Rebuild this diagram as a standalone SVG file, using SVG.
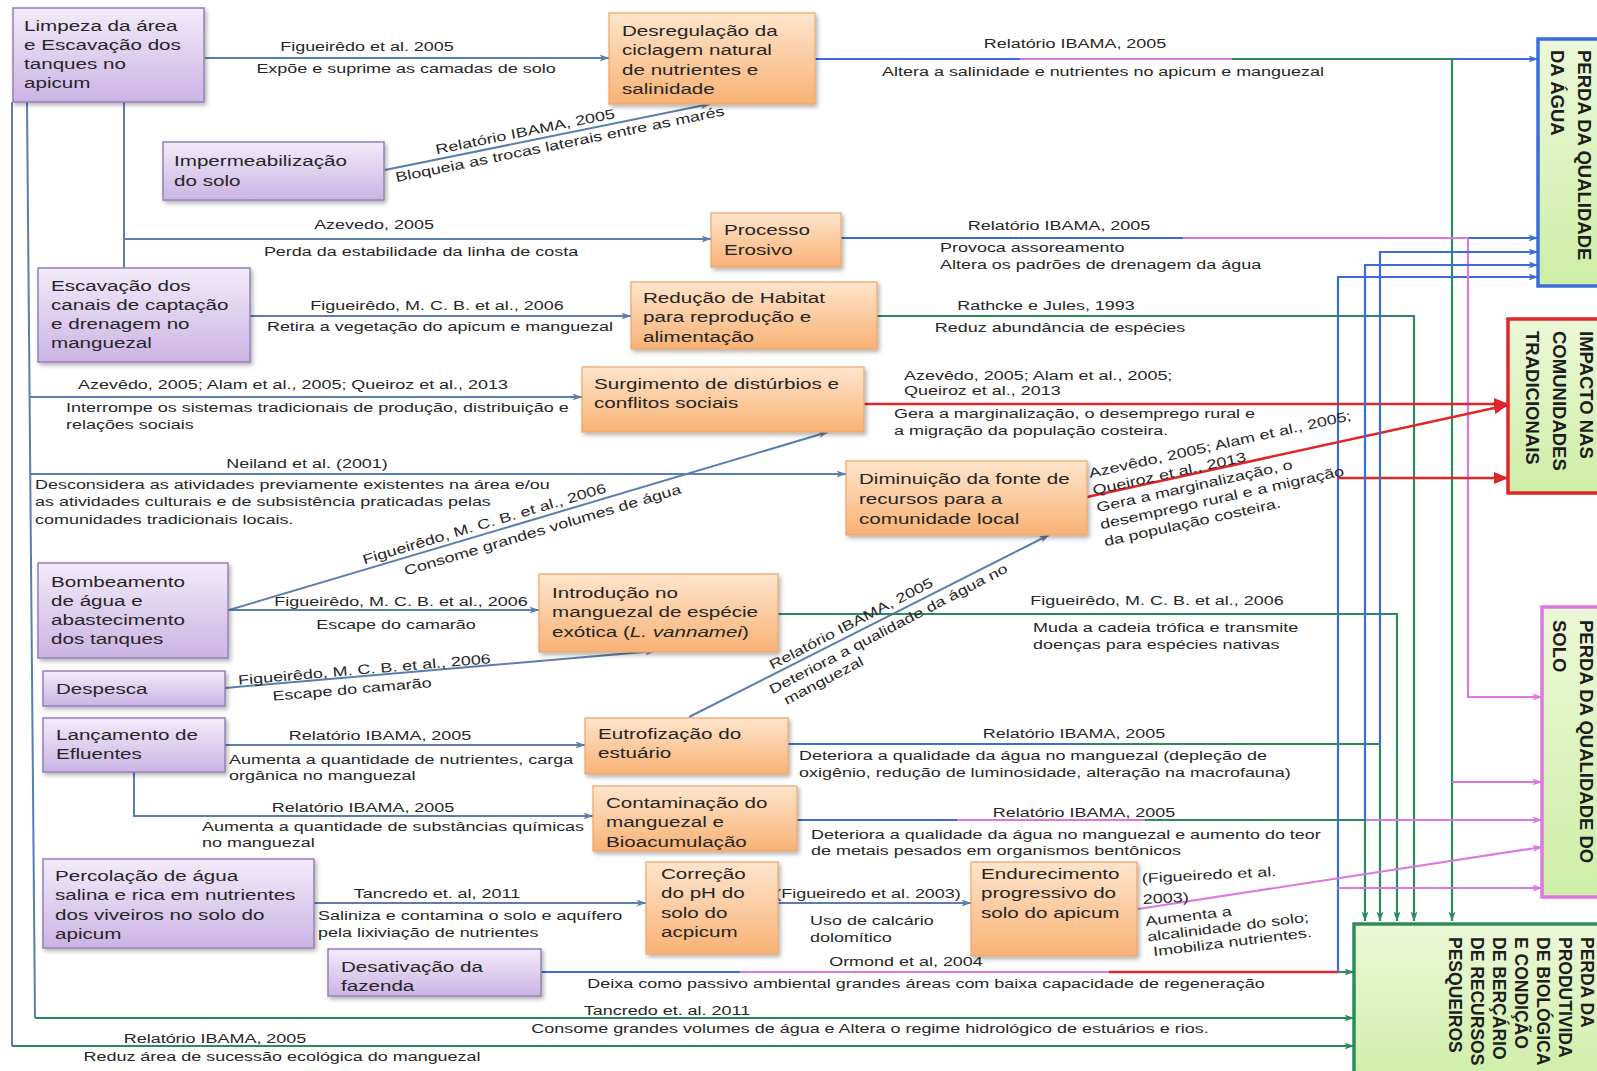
<svg xmlns="http://www.w3.org/2000/svg" width="1597" height="1071" viewBox="0 0 1597 1071">
<defs>
<linearGradient id="gp" x1="0" y1="0" x2="0" y2="1"><stop offset="0" stop-color="#f3ebf9"/><stop offset="1" stop-color="#cbb4e4"/></linearGradient>
<linearGradient id="go" x1="0" y1="0" x2="0" y2="1"><stop offset="0" stop-color="#fee5cc"/><stop offset="1" stop-color="#f8b275"/></linearGradient>
<linearGradient id="gg" x1="0" y1="0" x2="0" y2="1"><stop offset="0" stop-color="#ecf8d8"/><stop offset="1" stop-color="#cdeea6"/></linearGradient>
<filter id="sh" x="-10%" y="-10%" width="130%" height="140%"><feDropShadow dx="2" dy="2.5" stdDeviation="2" flood-color="#000" flood-opacity="0.3"/></filter>
<marker id="mS" viewBox="0 0 10 10" refX="9.5" refY="5" markerWidth="10" markerHeight="10" markerUnits="userSpaceOnUse" orient="auto"><path d="M0,1.5 L10,5 L0,8.5 L2.5,5z" fill="#5a7fae"/></marker>
<marker id="mB" viewBox="0 0 10 10" refX="9.5" refY="5" markerWidth="10" markerHeight="10" markerUnits="userSpaceOnUse" orient="auto"><path d="M0,1.5 L10,5 L0,8.5 L2.5,5z" fill="#3b6dd6"/></marker>
<marker id="mG" viewBox="0 0 10 10" refX="9.5" refY="5" markerWidth="10" markerHeight="10" markerUnits="userSpaceOnUse" orient="auto"><path d="M0,1.5 L10,5 L0,8.5 L2.5,5z" fill="#2f8a5c"/></marker>
<marker id="mM" viewBox="0 0 10 10" refX="9.5" refY="5" markerWidth="10" markerHeight="10" markerUnits="userSpaceOnUse" orient="auto"><path d="M0,1.5 L10,5 L0,8.5 L2.5,5z" fill="#df77e0"/></marker>
<marker id="mR" viewBox="0 0 10 10" refX="9.5" refY="5" markerWidth="15" markerHeight="15" markerUnits="userSpaceOnUse" orient="auto"><path d="M0,1 L10,5 L0,9z" fill="#e1262a"/></marker>
<style>
.pb{fill:url(#gp);stroke:#9480b8;stroke-width:1.5;filter:url(#sh)}
.ob{fill:url(#go);stroke:#eda66c;stroke-width:1.2;filter:url(#sh)}
.gb{fill:url(#gg);stroke-width:3.5}
text{font-family:"Liberation Sans",Arial,sans-serif;fill:#262626}
.bt{font-size:15.5px}
.lt{font-size:13.5px}
.gt{font-size:18.5px;font-weight:bold;fill:#1e1e1e}
.gt2{font-size:17.5px;font-weight:bold;fill:#1e1e1e}
.m{text-anchor:middle}
.s,.b,.g,.mg,.r{fill:none;stroke-width:2.2}
.s{stroke:#5a7fae;stroke-width:2}
.b{stroke:#3b6dd6}
.g{stroke:#2f8a5c}
.mg{stroke:#df77e0}
.r{stroke:#e1262a;stroke-width:2.6}
</style>
</defs>
<rect width="1597" height="1071" fill="#ffffff"/>

<g id="connectors">
<path class="s" d="M205,58 H609" marker-end="url(#mS)"/>
<path class="s" d="M385,170 L710,104" marker-end="url(#mS)"/>
<path class="s" d="M124,102 V268"/>
<path class="s" d="M124,239 H711" marker-end="url(#mS)"/>
<path class="s" d="M250,316 H631" marker-end="url(#mS)"/>
<path class="s" d="M12,102 V1046"/>
<path class="g" d="M12,1046 H1354" marker-end="url(#mG)"/>
<path class="s" d="M27,102 L35,1018"/>
<path class="g" d="M35,1018 H1354" marker-end="url(#mG)"/>
<path class="s" d="M29.5,397 H582" marker-end="url(#mS)"/>
<path class="s" d="M30,474 H846" marker-end="url(#mS)"/>
<path class="s" d="M228,610 H539" marker-end="url(#mS)"/>
<path class="s" d="M229,610 L828,432" marker-end="url(#mS)"/>
<path class="s" d="M225,688 L655,651" marker-end="url(#mS)"/>
<path class="s" d="M225,745 H585" marker-end="url(#mS)"/>
<path class="s" d="M134,772 V816 H593" marker-end="url(#mS)"/>
<path class="s" d="M314,903 H646" marker-end="url(#mS)"/>
<path class="s" d="M778,903 H971" marker-end="url(#mS)"/>
<path class="s" d="M689,717 L1049,535" marker-end="url(#mS)"/>
<path class="b" d="M541,972 H740"/>
<path class="mg" d="M740,972 H1109"/>
<path class="r" d="M1109,972 H1338"/>
<path class="g" d="M1338,972 H1354" marker-end="url(#mG)"/>
<path class="b" d="M1338,972 V277 H1538" marker-end="url(#mB)"/>
<path class="b" d="M815,59 H1020"/>
<path class="mg" d="M1020,59 H1232"/>
<path class="g" d="M1232,59 H1452"/>
<path class="b" d="M1452,59 H1538" marker-end="url(#mB)"/>
<path class="g" d="M1452,59 V921" marker-end="url(#mG)"/>
<path class="b" d="M841,238 H1183"/>
<path class="mg" d="M1183,238 H1468"/>
<path class="b" d="M1468,238 H1538" marker-end="url(#mB)"/>
<path class="mg" d="M1468,238 V697 H1542" marker-end="url(#mM)"/>
<path class="g" d="M877,316 H1414 V921" marker-end="url(#mG)"/>
<path class="r" d="M864,404 H1508" marker-end="url(#mR)"/>
<path class="r" d="M1087,497 L1508,405" marker-end="url(#mR)"/>
<path class="r" d="M1337,478 H1508" marker-end="url(#mR)"/>
<path class="g" d="M778,614 H1397 V921" marker-end="url(#mG)"/>
<path class="b" d="M788,744 H1076"/>
<path class="g" d="M1076,744 H1380"/>
<path class="b" d="M1380,744 V252 H1538" marker-end="url(#mB)"/>
<path class="g" d="M1380,744 V921" marker-end="url(#mG)"/>
<path class="b" d="M796,820 H957"/>
<path class="mg" d="M957,820 H1145"/>
<path class="g" d="M1145,820 H1365"/>
<path class="mg" d="M1365,820 H1542" marker-end="url(#mM)"/>
<path class="b" d="M1365,820 V265 H1538" marker-end="url(#mB)"/>
<path class="g" d="M1365,820 V921" marker-end="url(#mG)"/>
<path class="mg" d="M1452,782 H1542" marker-end="url(#mM)"/>
<path class="mg" d="M1138,909 L1542,847" marker-end="url(#mM)"/>
<path class="mg" d="M1338,888 H1542" marker-end="url(#mM)"/>
</g>

<g id="connector-labels" class="lt">
<text class="m" transform="translate(367 51) scale(1.33 1)">Figueirêdo et al. 2005</text>
<text class="m" transform="translate(406 73) scale(1.33 1)">Expõe e suprime as camadas de solo</text>
<text class="m" transform="translate(527 141) rotate(-11.5) scale(1.33 1)" y="-5">Relatório IBAMA, 2005</text>
<text class="m" transform="translate(558 135) rotate(-11.5) scale(1.33 1)" y="14">Bloqueia as trocas laterais entre as marés</text>
<text class="m" transform="translate(374 229) scale(1.33 1)">Azevedo, 2005</text>
<text class="m" transform="translate(421 256) scale(1.33 1)">Perda da estabilidade da linha de costa</text>
<text class="m" transform="translate(437 310) scale(1.33 1)">Figueirêdo, M. C. B. et al., 2006</text>
<text class="m" transform="translate(440 331) scale(1.33 1)">Retira a vegetação do apicum e manguezal</text>
<text class="m" transform="translate(293 389) scale(1.33 1)">Azevêdo, 2005; Alam et al., 2005; Queiroz et al., 2013</text>
<text transform="translate(66 412) scale(1.33 1)"><tspan x="0">Interrompe os sistemas tradicionais de produção, distribuição e</tspan><tspan x="0" dy="17">relações sociais</tspan></text>
<text class="m" transform="translate(307 468) scale(1.33 1)">Neiland et al. (2001)</text>
<text transform="translate(35 489) scale(1.33 1)"><tspan x="0">Desconsidera as atividades previamente existentes na área e/ou</tspan><tspan x="0" dy="17.5">as atividades culturais e de subsistência praticadas pelas</tspan><tspan x="0" dy="17.5">comunidades tradicionais locais.</tspan></text>
<text class="m" transform="translate(487 533) rotate(-16.6) scale(1.33 1)" y="-5">Figueirêdo, M. C. B. et al., 2006</text>
<text class="m" transform="translate(539 518) rotate(-16.6) scale(1.33 1)" y="17">Consome grandes volumes de água</text>
<text class="m" transform="translate(401 606) scale(1.33 1)">Figueirêdo, M. C. B. et al., 2006</text>
<text class="m" transform="translate(396 629) scale(1.33 1)">Escape do camarão</text>
<text class="m" transform="translate(365 676) rotate(-4.9) scale(1.33 1)" y="-2">Figueirêdo, M. C. B. et al., 2006</text>
<text class="m" transform="translate(351 677) rotate(-4.9) scale(1.33 1)" y="17">Escape do camarão</text>
<text class="m" transform="translate(380 740) scale(1.33 1)">Relatório IBAMA, 2005</text>
<text transform="translate(229 764) scale(1.33 1)"><tspan x="0">Aumenta a quantidade de nutrientes, carga</tspan><tspan x="0" dy="16.5">orgânica no manguezal</tspan></text>
<text class="m" transform="translate(363 812) scale(1.33 1)">Relatório IBAMA, 2005</text>
<text transform="translate(202 831) scale(1.33 1)"><tspan x="0">Aumenta a quantidade de substâncias químicas</tspan><tspan x="0" dy="16.5">no manguezal</tspan></text>
<text class="m" transform="translate(437 898) scale(1.33 1)">Tancredo  et. al, 2011</text>
<text transform="translate(318 920) scale(1.33 1)"><tspan x="0">Saliniza  e contamina o solo e aquífero</tspan><tspan x="0" dy="17">pela lixiviação de nutrientes</tspan></text>
<text class="m" transform="translate(868 898) scale(1.33 1)">(Figueiredo et al. 2003)</text>
<text transform="translate(810 925) scale(1.33 1)"><tspan x="0">Uso de calcário</tspan><tspan x="0" dy="17">dolomítico</tspan></text>
<text class="m" transform="translate(906 966) scale(1.33 1)">Ormond et al, 2004</text>
<text class="m" transform="translate(926 988) scale(1.33 1)">Deixa como passivo ambiental grandes áreas com baixa capacidade de regeneração</text>
<text class="m" transform="translate(667 1015) scale(1.33 1)">Tancredo  et. al. 2011</text>
<text class="m" transform="translate(870 1033) scale(1.33 1)">Consome grandes volumes de água e Altera o regime hidrológico de estuários e rios.</text>
<text class="m" transform="translate(215 1043) scale(1.33 1)">Relatório IBAMA, 2005</text>
<text class="m" transform="translate(282 1061) scale(1.33 1)">Reduz área de sucessão ecológica do manguezal</text>
<text class="m" transform="translate(856 633) rotate(-27.5) scale(1.33 1)" y="-6">Relatório IBAMA, 2005</text>
<text transform="translate(770 690) rotate(-27.5) scale(1.33 1)"><tspan x="0" y="5">Deteriora a qualidade da água no</tspan><tspan x="6" dy="16">manguezal</tspan></text>
<text class="m" transform="translate(1075 48) scale(1.33 1)">Relatório IBAMA, 2005</text>
<text class="m" transform="translate(1103 76) scale(1.33 1)">Altera a salinidade e nutrientes no apicum e manguezal</text>
<text class="m" transform="translate(1059 230) scale(1.33 1)">Relatório IBAMA, 2005</text>
<text transform="translate(940 252) scale(1.33 1)"><tspan x="0">Provoca assoreamento</tspan><tspan x="0" dy="17">Altera os padrões de drenagem da água</tspan></text>
<text class="m" transform="translate(1046 310) scale(1.33 1)">Rathcke e Jules, 1993</text>
<text class="m" transform="translate(1060 332) scale(1.33 1)">Reduz abundância de espécies</text>
<text transform="translate(904 380) scale(1.33 1)"><tspan x="0">Azevêdo, 2005; Alam et al., 2005;</tspan><tspan x="0" dy="15.5">Queiroz et al., 2013</tspan></text>
<text transform="translate(894 418) scale(1.33 1)"><tspan x="0">Gera a marginalização, o desemprego rural e</tspan><tspan x="0" dy="17">a migração da população costeira.</tspan></text>
<text transform="translate(1090 478) rotate(-12.5) scale(1.33 1)"><tspan x="0">Azevêdo, 2005; Alam et al., 2005;</tspan><tspan x="0" dy="17.5">Queiroz et al., 2013</tspan><tspan x="0" dy="17.5">Gera a marginalização, o</tspan><tspan x="0" dy="17.5">desemprego rural e a migração</tspan><tspan x="0" dy="17.5">da população costeira.</tspan></text>
<text class="m" transform="translate(1157 605) scale(1.33 1)">Figueirêdo, M. C. B. et al., 2006</text>
<text transform="translate(1033 632) scale(1.33 1)"><tspan x="0">Muda a cadeia trófica e transmite</tspan><tspan x="0" dy="17">doenças para espécies nativas</tspan></text>
<text class="m" transform="translate(1074 738) scale(1.33 1)">Relatório IBAMA, 2005</text>
<text transform="translate(799 760) scale(1.33 1)"><tspan x="0">Deteriora a qualidade da água no manguezal (depleção de</tspan><tspan x="0" dy="17">oxigênio, redução de luminosidade,  alteração na macrofauna)</tspan></text>
<text class="m" transform="translate(1084 817) scale(1.33 1)">Relatório IBAMA, 2005</text>
<text transform="translate(811 839) scale(1.33 1)"><tspan x="0">Deteriora a qualidade da água no manguezal e aumento do teor</tspan><tspan x="0" dy="16.5">de metais pesados em organismos bentônicos</tspan></text>
<text transform="translate(1142 883) rotate(-3) scale(1.33 1)"><tspan x="0">(Figueiredo et al.</tspan><tspan x="0" dy="21">2003)</tspan></text>
<text transform="translate(1146 926) rotate(-7) scale(1.33 1)"><tspan x="0">Aumenta a</tspan><tspan x="0" dy="15.5">alcalinidade do solo;</tspan><tspan x="3" dy="15.5">Imobiliza  nutrientes.</tspan></text>
</g>

<g id="n-limpeza"><rect class="pb" x="13" y="8" width="191" height="94"/><text class="bt" transform="translate(24 31) scale(1.33 1)"><tspan x="0">Limpeza da área</tspan><tspan x="0" dy="19">e Escavação dos</tspan><tspan x="0" dy="19">tanques no</tspan><tspan x="0" dy="19">apicum</tspan></text></g>
<g id="n-impermeabilizacao"><rect class="pb" x="163" y="142" width="221" height="58"/><text class="bt" transform="translate(174 166) scale(1.33 1)"><tspan x="0">Impermeabilização</tspan><tspan x="0" dy="20">do solo</tspan></text></g>
<g id="n-escavacao-canais"><rect class="pb" x="38" y="268" width="212" height="94"/><text class="bt" transform="translate(51 291) scale(1.33 1)"><tspan x="0">Escavação dos</tspan><tspan x="0" dy="19">canais de captação</tspan><tspan x="0" dy="19">e  drenagem no</tspan><tspan x="0" dy="19">manguezal</tspan></text></g>
<g id="n-bombeamento"><rect class="pb" x="38" y="563" width="190" height="95"/><text class="bt" transform="translate(51 587) scale(1.33 1)"><tspan x="0">Bombeamento</tspan><tspan x="0" dy="19">de água e</tspan><tspan x="0" dy="19">abastecimento</tspan><tspan x="0" dy="19">dos tanques</tspan></text></g>
<g id="n-despesca"><rect class="pb" x="43" y="671" width="182" height="35"/><text class="bt" transform="translate(56 694) scale(1.33 1)">Despesca</text></g>
<g id="n-lancamento"><rect class="pb" x="43" y="718" width="182" height="54"/><text class="bt" transform="translate(56 740) scale(1.33 1)"><tspan x="0">Lançamento de</tspan><tspan x="0" dy="19">Efluentes</tspan></text></g>
<g id="n-percolacao"><rect class="pb" x="43" y="859" width="271" height="89"/><text class="bt" transform="translate(55 881) scale(1.33 1)"><tspan x="0">Percolação de água</tspan><tspan x="0" dy="19.5">salina e rica em nutrientes</tspan><tspan x="0" dy="19.5">dos viveiros no solo do</tspan><tspan x="0" dy="19.5">apicum</tspan></text></g>
<g id="n-desativacao"><rect class="pb" x="328" y="949" width="213" height="47"/><text class="bt" transform="translate(341 972) scale(1.33 1)"><tspan x="0">Desativação da</tspan><tspan x="0" dy="19">fazenda</tspan></text></g>

<g id="n-desregulacao"><rect class="ob" x="609" y="13" width="206" height="91"/><text class="bt" transform="translate(622 36) scale(1.33 1)"><tspan x="0">Desregulação da</tspan><tspan x="0" dy="19.5">ciclagem natural</tspan><tspan x="0" dy="19.5">de nutrientes e</tspan><tspan x="0" dy="19.5">salinidade</tspan></text></g>
<g id="n-erosivo"><rect class="ob" x="711" y="213" width="130" height="54"/><text class="bt" transform="translate(724 235) scale(1.33 1)"><tspan x="0">Processo</tspan><tspan x="0" dy="20">Erosivo</tspan></text></g>
<g id="n-habitat"><rect class="ob" x="631" y="282" width="246" height="67"/><text class="bt" transform="translate(643 303) scale(1.33 1)"><tspan x="0">Redução de Habitat</tspan><tspan x="0" dy="19.5">para reprodução e</tspan><tspan x="0" dy="19.5">alimentação</tspan></text></g>
<g id="n-conflitos"><rect class="ob" x="582" y="367" width="282" height="65"/><text class="bt" transform="translate(594 389) scale(1.33 1)"><tspan x="0">Surgimento de distúrbios e</tspan><tspan x="0" dy="19.5">conflitos sociais</tspan></text></g>
<g id="n-diminuicao"><rect class="ob" x="846" y="461" width="241" height="74"/><text class="bt" transform="translate(859 484) scale(1.33 1)"><tspan x="0">Diminuição da fonte de</tspan><tspan x="0" dy="20">recursos para a</tspan><tspan x="0" dy="20">comunidade local</tspan></text></g>
<g id="n-introducao"><rect class="ob" x="539" y="574" width="239" height="78"/><text class="bt" transform="translate(552 598) scale(1.33 1)"><tspan x="0">Introdução no</tspan><tspan x="0" dy="19.5">manguezal de espécie</tspan><tspan x="0" dy="19.5">exótica (<tspan font-style="italic">L. vannamei</tspan>)</tspan></text></g>
<g id="n-eutrofizacao"><rect class="ob" x="585" y="718" width="203" height="56"/><text class="bt" transform="translate(598 739) scale(1.33 1)"><tspan x="0">Eutrofização do</tspan><tspan x="0" dy="19.5">estuário</tspan></text></g>
<g id="n-contaminacao"><rect class="ob" x="593" y="786" width="204" height="65"/><text class="bt" transform="translate(606 808) scale(1.33 1)"><tspan x="0">Contaminação do</tspan><tspan x="0" dy="19.5">manguezal e</tspan><tspan x="0" dy="19.5">Bioacumulação</tspan></text></g>
<g id="n-correcao"><rect class="ob" x="646" y="862" width="132" height="92"/><text class="bt" transform="translate(661 879) scale(1.33 1)"><tspan x="0">Correção</tspan><tspan x="0" dy="19.5">do pH do</tspan><tspan x="0" dy="19.5">solo do</tspan><tspan x="0" dy="19.5">acpicum</tspan></text></g>
<g id="n-endurecimento"><rect class="ob" x="971" y="862" width="166" height="94"/><text class="bt" transform="translate(981 879) scale(1.33 1)"><tspan x="0">Endurecimento</tspan><tspan x="0" dy="19.5">progressivo do</tspan><tspan x="0" dy="19.5">solo do apicum</tspan></text></g>

<g id="n-agua"><rect class="gb" x="1538" y="39" width="80" height="247" stroke="#3b6dd6"/><text class="gt" transform="translate(1578 50) rotate(90)"><tspan x="0">PERDA DA QUALIDADE</tspan><tspan x="0" dy="27">DA ÁGUA</tspan></text></g>
<g id="n-comunidades"><rect class="gb" x="1508" y="319" width="110" height="174" stroke="#e1262a"/><text class="gt" transform="translate(1580 331) rotate(90)"><tspan x="0">IMPACTO NAS</tspan><tspan x="0" dy="27">COMUNIDADES</tspan><tspan x="0" dy="27">TRADICIONAIS</tspan></text></g>
<g id="n-solo"><rect class="gb" x="1542" y="607" width="80" height="290" stroke="#df77e0"/><text class="gt" transform="translate(1580 620) rotate(90)"><tspan x="0">PERDA DA QUALIDADE DO</tspan><tspan x="0" dy="27">SOLO</tspan></text></g>
<g id="n-produtividade"><rect class="gb" x="1354" y="924" width="260" height="160" stroke="#2f8a5c"/><text class="gt2" transform="translate(1581 937) rotate(90)"><tspan x="0">PERDA DA</tspan><tspan x="0" dy="22">PRODUTIVIDA</tspan><tspan x="0" dy="22">DE BIOLÓGICA</tspan><tspan x="0" dy="22">E CONDIÇÃO</tspan><tspan x="0" dy="22">DE BERÇÁRIO</tspan><tspan x="0" dy="22">DE RECURSOS</tspan><tspan x="0" dy="22">PESQUEIROS</tspan></text></g>
</svg>
